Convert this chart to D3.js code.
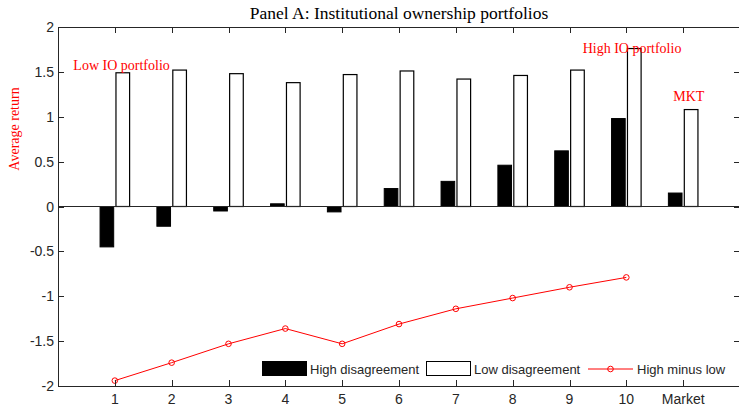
<!DOCTYPE html>
<html>
<head>
<meta charset="utf-8">
<script src="https://cdn.jsdelivr.net/npm/d3@7"></script>
<style>
  body { margin: 0; background: #fff; }
  svg { display: block; }
</style>
</head>
<body>
<div id="chart"></div>
<script>
// portfolios 1..10 plus the market
const categories = ["1", "2", "3", "4", "5", "6", "7", "8", "9", "10", "Market"];
const highDisagreement = [-0.45, -0.22, -0.05, 0.03, -0.06, 0.20, 0.28, 0.46, 0.62, 0.98, 0.15];
const lowDisagreement = [1.49, 1.52, 1.48, 1.38, 1.47, 1.51, 1.42, 1.46, 1.52, 1.76, 1.08];
const highMinusLow = [-1.94, -1.74, -1.53, -1.36, -1.53, -1.31, -1.14, -1.02, -0.90, -0.79];
const yTicks = [-2, -1.5, -1, -0.5, 0, 0.5, 1, 1.5, 2];

function drawChart(container) {
    const width = 739;
    const height = 407;
    const axisColor = "#262626";
    const red = "#ff0000";

    const x = d3.scaleLinear().domain([0, 12]).range([58, 740]);
    const y = d3.scaleLinear().domain([-2, 2]).range([386, 27]);
    const barW = 0.24;
    const off = 0.14;

    const svg = d3.select(container).append("svg")
        .attr("width", width)
        .attr("height", height);

    // high disagreement bars (black)
    svg.append("g")
        .selectAll("rect")
        .data(highDisagreement)
        .join("rect")
        .attr("x", (d, i) => x(i + 1 - off - barW / 2))
        .attr("width", x(barW) - x(0))
        .attr("y", d => y(Math.max(0, d)))
        .attr("height", d => Math.abs(y(d) - y(0)))
        .attr("fill", "#000")
        .attr("stroke", "#000")
        .attr("stroke-width", 1);

    // low disagreement bars (white)
    svg.append("g")
        .selectAll("rect")
        .data(lowDisagreement)
        .join("rect")
        .attr("x", (d, i) => x(i + 1 + off - barW / 2))
        .attr("width", x(barW) - x(0))
        .attr("y", d => y(Math.max(0, d)))
        .attr("height", d => Math.abs(y(d) - y(0)))
        .attr("fill", "#fff")
        .attr("stroke", "#000")
        .attr("stroke-width", 1.2);

    // bar baseline
    svg.append("line")
        .attr("x1", x(0)).attr("x2", x(12))
        .attr("y1", y(0)).attr("y2", y(0))
        .attr("stroke", axisColor)
        .attr("stroke-width", 1);

    // high minus low line
    const line = d3.line()
        .x((d, i) => x(i + 1))
        .y(d => y(d));
    svg.append("path")
        .datum(highMinusLow)
        .attr("d", line)
        .attr("fill", "none")
        .attr("stroke", red)
        .attr("stroke-width", 1);
    svg.append("g")
        .selectAll("circle")
        .data(highMinusLow)
        .join("circle")
        .attr("cx", (d, i) => x(i + 1))
        .attr("cy", d => y(d))
        .attr("r", 2.8)
        .attr("fill", "none")
        .attr("stroke", red)
        .attr("stroke-width", 1);

    // box
    svg.append("rect")
        .attr("x", x(0) + 0.5)
        .attr("y", y(2) + 0.5)
        .attr("width", x(12) - x(0))
        .attr("height", y(-2) - y(2))
        .attr("fill", "none")
        .attr("stroke", axisColor)
        .attr("stroke-width", 1);

    // x ticks (inward, top and bottom)
    const xt = svg.append("g").attr("stroke", axisColor).attr("stroke-width", 1);
    categories.forEach((c, i) => {
        const px = Math.round(x(i + 1)) + 0.5;
        xt.append("line").attr("x1", px).attr("x2", px).attr("y1", y(-2)).attr("y2", y(-2) - 6);
        xt.append("line").attr("x1", px).attr("x2", px).attr("y1", y(2)).attr("y2", y(2) + 6);
    });
    svg.append("g")
        .selectAll("text")
        .data(categories)
        .join("text")
        .attr("x", (d, i) => x(i + 1))
        .attr("y", 404)
        .attr("text-anchor", "middle")
        .attr("font-family", "Liberation Sans, Arial, sans-serif")
        .attr("font-size", 14)
        .attr("fill", axisColor)
        .text(d => d);

    // y ticks (inward, left and right)
    const yt = svg.append("g").attr("stroke", axisColor).attr("stroke-width", 1);
    yTicks.forEach(t => {
        const py = Math.round(y(t)) + 0.5;
        yt.append("line").attr("x1", x(0)).attr("x2", x(0) + 6).attr("y1", py).attr("y2", py);
        yt.append("line").attr("x1", x(12)).attr("x2", x(12) - 6).attr("y1", py).attr("y2", py);
    });
    svg.append("g")
        .selectAll("text")
        .data(yTicks)
        .join("text")
        .attr("x", 54)
        .attr("y", d => y(d))
        .attr("dy", "0.36em")
        .attr("text-anchor", "end")
        .attr("font-family", "Liberation Sans, Arial, sans-serif")
        .attr("font-size", 14)
        .attr("fill", axisColor)
        .text(d => String(d));

    // title
    svg.append("text")
        .attr("x", 399)
        .attr("y", 19)
        .attr("text-anchor", "middle")
        .attr("font-family", "Liberation Serif, Times New Roman, serif")
        .attr("font-size", 17.5)
        .attr("fill", "#000")
        .text("Panel A: Institutional ownership portfolios");

    // y label
    svg.append("text")
        .attr("transform", "translate(19,129) rotate(-90)")
        .attr("text-anchor", "middle")
        .attr("font-family", "Liberation Serif, Times New Roman, serif")
        .attr("font-size", 14)
        .attr("fill", red)
        .text("Average return");

    // annotations
    const notes = [
        { t: "Low IO portfolio", x: 0.27, y: 1.52, anchor: "start" },
        { t: "High IO portfolio", x: 10.1, y: 1.71, anchor: "middle" },
        { t: "MKT", x: 11.1, y: 1.17, anchor: "middle" }
    ];
    svg.append("g")
        .selectAll("text")
        .data(notes)
        .join("text")
        .attr("x", d => x(d.x))
        .attr("y", d => y(d.y))
        .attr("text-anchor", d => d.anchor)
        .attr("font-family", "Liberation Serif, Times New Roman, serif")
        .attr("font-size", 14)
        .attr("fill", red)
        .text(d => d.t);

    // legend
    const lg = svg.append("g")
        .attr("font-family", "Liberation Sans, Arial, sans-serif")
        .attr("font-size", 13)
        .attr("fill", axisColor);
    const ly = 369;
    lg.append("rect").attr("x", 262.5).attr("y", ly - 7.5).attr("width", 44).attr("height", 14)
        .attr("fill", "#000").attr("stroke", "#000");
    lg.append("text").attr("x", 310).attr("y", ly).attr("dy", "0.36em").text("High disagreement");
    lg.append("rect").attr("x", 426.5).attr("y", ly - 7.5).attr("width", 44).attr("height", 14)
        .attr("fill", "#fff").attr("stroke", "#000");
    lg.append("text").attr("x", 474).attr("y", ly).attr("dy", "0.36em").text("Low disagreement");
    lg.append("line").attr("x1", 588).attr("x2", 633).attr("y1", ly).attr("y2", ly)
        .attr("stroke", red).attr("stroke-width", 1);
    lg.append("circle").attr("cx", 610.5).attr("cy", ly).attr("r", 2.8)
        .attr("fill", "none").attr("stroke", red);
    lg.append("text").attr("x", 637).attr("y", ly).attr("dy", "0.36em").text("High minus low");
}

drawChart("#chart");
</script>
</body>
</html>
